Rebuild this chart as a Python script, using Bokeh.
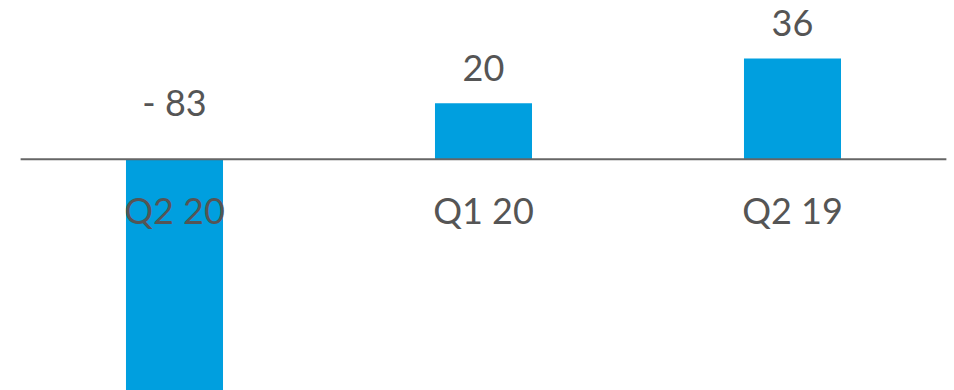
from bokeh.plotting import figure
from bokeh.models import ColumnDataSource, Range1d
from bokeh.core.properties import value
from bokeh.embed import file_html
from bokeh.resources import INLINE

categories = ["Q2 20", "Q1 20", "Q2 19"]
values = [-83, 20, 36]

xs = list(range(len(categories)))
labels = [f"- {abs(v)}" if v < 0 else str(v) for v in values]
label_y = [max(v, 0) for v in values]
label_off = [-57.5 if v < 0 else -35.5 for v in values]

src = ColumnDataSource(dict(x=xs, v=values, cat=categories, lab=labels,
                            ly=label_y, loff=label_off, zero=[0] * len(xs)))

p = figure(width=954, height=390, output_backend="svg", toolbar_location=None,
           x_range=Range1d(-0.5631, 2.5243), y_range=Range1d(-82.6, 56.68),
           min_border=0, outline_line_color=None)
p.axis.visible = False
p.grid.visible = False
p.background_fill_color = "white"
p.border_fill_color = "white"

p.vbar(x="x", top="v", bottom=0, width=0.314, source=src,
       fill_color="#009FDF", line_color=None)
p.segment(x0=-0.498, x1=2.498, y0=0, y1=0, line_color="#666666", line_width=2)

p.text(x="x", y="ly", text="lab", y_offset="loff", source=src,
       text_align="center", text_baseline="alphabetic",
       text_font=value("Lato"), text_font_size="36px", text_color="#555555")
p.text(x="x", y="zero", text="cat", y_offset=50.5, source=src,
       text_align="center", text_baseline="alphabetic",
       text_font=value("Lato"), text_font_size="36px", text_color="#555555")

open("out.html", "w").write(file_html(p, INLINE))
